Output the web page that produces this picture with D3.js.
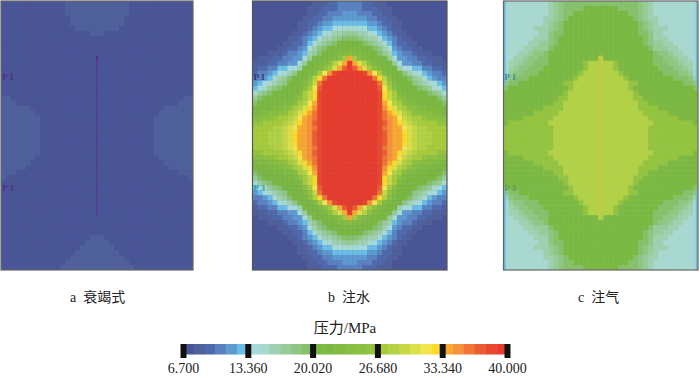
<!DOCTYPE html>
<html><head><meta charset="utf-8">
<script src="https://cdn.jsdelivr.net/npm/d3@7/dist/d3.min.js"></script>
<style>html,body{margin:0;padding:0;background:#fff}svg{display:block}text{font-family:"Liberation Serif","Noto Sans CJK SC",serif;fill:#222}</style>
</head><body><svg id="c" width="700" height="378"></svg>
<script>
const captions = ["a 衰竭式","b 注水","c 注气"];
const legendTitle = "压力/MPa";
const tickValues = [6.7,13.36,20.02,26.68,33.34,40];
const wellLabels = ["P 1","P 3"];
const edgeStripRows = [[0,16],[38,53]];
const levelChars = "0123456789abcdefghijklmnopqrst";
const palette = ["#4a5596","#4f609b","#5069ac","#5a82bf","#5d9ad0","#69bde6",
"#a6dadb","#a8d8cf","#9fd0af","#97cb98","#8fc681","#87c06a",
"#7ab843","#7db942","#82bb42","#88be42","#8cc040","#94c33f",
"#a6cb3d","#b3d145","#c7d845","#dbe04a","#f3e64d","#fcd92b",
"#f9a833","#f6923a","#f07434","#ec5c31","#e9472f","#e73c2e"];
// half rows, edge to centre; each char is a pressure class
const panelA = [
"00000000000001111111","00000000000001111111","00000000000001111111","00000000000000111111","00000000000000111111",
"00000000000000011111","00000000000000000011","00000000000000000000","00000000000000000000","00000000000000000000",
"00000000000000000000","00000000000000000000","00000000000000000000","00000000000000000000","00000000000000000000",
"00000000000000000000","00000000000000000000","00000000000000000000","00000000000000000000","11000000000000000000",
"11100000000000000000","11111100000000000000","11111110000000000000","11111111000000000000","11111111000000000000",
"11111111000000000000","11111111000000000000","11111111000000000000","11111111000000000000","11111111000000000000",
"11111111000000000000","11111110000000000000","11111100000000000000","11111000000000000000","11100000000000000000",
"10000000000000000000","00000000000000000000","00000000000000000000","00000000000000000000","00000000000000000000",
"00000000000000000000","00000000000000000000","00000000000000000000","00000000000000000000","00000000000000000000",
"00000000000000000000","00000000000000000000","00000000000000000011","00000000000000000111","00000000000000001111",
"00000000000000011111","00000000000000111111","00000000000001111111","00000000000011111111"];
const panelB = [
"00000000000011122333","00000000000111222333","00000000000112233344","00000000001122334444","00000000011223445555",
"00000000011234556677","00000000112345678899","00000001123457889abb","000000112235789abccc","0000011223468abccddd",
"0001112334589bcddeef","011122334479ccddefio","11122334469cddegjlot","1223355668ccdegilort","23345678accdeimpsttt",
"3345789bccdfjnqttttt","456789acccehkqtttttt","5679abcccdfimrtttttt","79abcccddeiknstttttt","9bcccdddegiknstttttt",
"bcccddeefijmostttttt","ccddeefgijlnpstttttt","deeffggijlnoqstttttt","ffgghiijkmopqstttttt","hhiiiijklnoprstttttt",
"iiiijjklmoopqstttttt","iiijjjklnooprstttttt",
"iiijjjklnooprstttttt","iiijjjklnooprstttttt","iiiijjklmoopqstttttt","hhiiiijklnoprstttttt","ffgghiijkmopqstttttt",
"deeffggijlnoqstttttt","ccddeefgijlnpstttttt","bcccddeefijmostttttt","9bcccdddegiknstttttt","79abcccddeiknstttttt",
"5679abcccdfimrtttttt","456789acccehkqtttttt","3345789bccdfjnqttttt","23345678accdeimpsttt","1223355668ccdegilort",
"11122334469cddegjlot","011122334479ccddefio","0001112334589bcddeef","0000011223468abccddd","000000112235789abccc",
"00000001123457889abb","00000000112345678899","00000000011234556677","00000000011223445555","00000000001122334444",
"00000000000112233344","00000000000111222333"];
const panelC = [
"77777777789abbbbbbbb","77777777789abbbbcccc","77777777789abbcccccc","77777777889abccccccc","7777777789abcccccccc",
"7777778889abcccccccc","777777788abbcccccccc","777777888abccccccccc","777778899abccccccccc","777788999bcccccccccc",
"777889aabccccccccccc","77889aabbcccccccccdj","7889aabbbccccccdhjjj","789aabbbcccccccdhjjj","79aabbbcccccccdhjjjj",
"8abbbccccccccdhjjjjj","abbccccccccdhhjjjjjj","bccccccccccddhjjjjjj","ccccccccccddhjjjjjjj","cccccccccddhhjjjjjjj",
"ccccccccddhhjjjjjjjj","cccccdddhhhhjjjjjjjj","ccddddhhhhhjjjjjjjjj","ddddhhhhhhjjjjjjjjjj","dhhhhhhhhjjjjjjjjjjj",
"hhhhhhhhhhjjjjjjjjjj","hhhhhhhhhhjjjjjjjjjj",
"hhhhhhhhhhjjjjjjjjjj","hhhhhhhhhhjjjjjjjjjj","hhhhhhhhhhjjjjjjjjjj","dhhhhhhhhjjjjjjjjjjj","ddddhhhhhhjjjjjjjjjj",
"ccddddhhhhhjjjjjjjjj","cccccdddhhhhjjjjjjjj","ccccccccddhhjjjjjjjj","cccccccccddhhjjjjjjj","ccccccccccddhjjjjjjj",
"bccccccccccddhjjjjjj","abbccccccccdhhjjjjjj","8abbbccccccccdhjjjjj","79aabbbcccccccdhjjjj","789aabbbcccccccdhjjj",
"7889aabbbccccccdhjjj","77889aabbcccccccccdj","777889aabccccccccccc","777788999bcccccccccc","777778899abccccccccc",
"777777888abccccccccc","777777788abbcccccccc","7777778889abcccccccc","7777777789abcccccccc","77777777889abccccccc",
"77777777789abbcccccc","77777777789abbbbcccc"];

const svg = d3.select("#c");
const defs = svg.append("defs");
defs.append("filter").attr("id","soft").attr("x","-2%").attr("y","-2%").attr("width","104%").attr("height","104%")
  .append("feGaussianBlur").attr("stdDeviation",0.7);
defs.append("filter").attr("id","soft2").append("feGaussianBlur").attr("stdDeviation",0.45);

const color = d3.scaleQuantize().domain([6.7,40]).range(palette);
const classValue = ch => 6.7 + (levelChars.indexOf(ch)+0.5)*(33.3/30);
const toGrid = rows => rows.flatMap((row,r)=>{
  const half=[...row];
  const full=half.concat(half.slice(0,19).reverse());
  return full.map((ch,c)=>({r,c,v:classValue(ch)}));
});
const panels=[
 {rows:panelA,xr:[1,193],well:"#5b2f8a",strip:false,labels:["#4a2f8e","#4a2f8e"],frame:"#666"},
 {rows:panelB,xr:[252.5,447],well:null,strip:false,labels:["#35307f","#3aa0a8"],frame:"#555"},
 {rows:panelC,xr:[503.5,698],well:"#dcc23a",strip:true,labels:["#3a88a8","#5a9a50"],frame:"#666"}
];
const yRange=[1,270];
panels.forEach((p,i)=>{
  const x=d3.scaleBand().domain(d3.range(39)).range(p.xr);
  const y=d3.scaleBand().domain(d3.range(p.rows.length)).range(yRange);
  const g=svg.append("g");
  const clipId="clip"+i;
  defs.append("clipPath").attr("id",clipId).append("rect").attr("x",p.xr[0]).attr("y",yRange[0]).attr("width",p.xr[1]-p.xr[0]).attr("height",yRange[1]-yRange[0]);
  const inner=g.append("g").attr("clip-path",`url(#${clipId})`).append("g").attr("filter","url(#soft)");
  inner.append("rect").attr("x",p.xr[0]-4).attr("y",yRange[0]-4).attr("width",p.xr[1]-p.xr[0]+8).attr("height",yRange[1]-yRange[0]+8).attr("fill",color(classValue(p.rows[0][0])));
  inner.selectAll("rect.cell").data(toGrid(p.rows)).join("rect").attr("class","cell")
    .attr("x",d=>x(d.c)).attr("y",d=>y(d.r))
    .attr("width",x.bandwidth()+0.4).attr("height",y.bandwidth()+0.4)
    .attr("fill",d=>color(d.v));
  if(p.well){
    const cx=x(19)+x.bandwidth()/2;
    inner.append("line").attr("x1",cx).attr("x2",cx).attr("y1",y(12)).attr("y2",y(43))
      .attr("stroke",p.well).attr("stroke-width",1.6).attr("stroke-dasharray","2 1").attr("opacity",.85);
    inner.append("line").attr("x1",cx).attr("x2",cx).attr("y1",y(11)).attr("y2",y(12))
      .attr("stroke",p.well).attr("stroke-width",2);
  }
  if(p.strip){
    edgeStripRows.forEach(([a,b])=>p.xr.forEach((ex,k)=>{
      g.append("rect").attr("x",k?ex-2.2:ex+0.4).attr("y",y(a)).attr("width",1.8).attr("height",y(b)+y.bandwidth()-y(a))
       .attr("fill",palette[5]).attr("filter","url(#soft2)");
    }));
  }
  wellLabels.forEach((t,k)=>{
    g.append("text").attr("x",p.xr[0]+1).attr("y",y(k?37:15)+(k?6:4)).attr("font-size",9).attr("font-weight","bold")
     .attr("filter","url(#soft2)").style("fill",p.labels[k]).text(t);
  });
  g.append("rect").attr("x",p.xr[0]).attr("y",yRange[0]).attr("width",p.xr[1]-p.xr[0]).attr("height",yRange[1]-yRange[0])
    .attr("fill","none").attr("stroke",p.frame).attr("stroke-width",1.2);
});
const capX=[70,328,578];
captions.forEach((t,i)=>{
  const [a,b]=t.split(" ");
  const txt=svg.append("text").attr("x",capX[i]).attr("y",302).attr("font-size",14);
  txt.append("tspan").text(a);
  txt.append("tspan").attr("dx",7).text(b);
});
// legend
const lx=d3.scaleLinear().domain([6.7,40]).range([183,507]);
const lg=svg.append("g").attr("filter","url(#soft2)");
const step=33.3/30;
lg.selectAll("rect").data(palette).join("rect")
  .attr("x",(d,i)=>lx(6.7+i*step)).attr("y",344).attr("width",(d,i)=>lx(6.7+step)-lx(6.7)+0.4).attr("height",10.5)
  .attr("fill",d=>d);
const axis=d3.axisBottom(lx).tickValues(tickValues).tickFormat(d3.format(".3f")).tickSize(14).tickPadding(4);
const ag=svg.append("g").attr("transform","translate(0,344)").call(axis);
ag.select(".domain").remove();
ag.selectAll("line").attr("stroke","#111").attr("stroke-width",6);
ag.selectAll("text").attr("font-size",14).style("font-family",'"Liberation Serif",serif').style("fill","#222").attr("y",19);
svg.append("text").attr("x",345).attr("y",333).attr("text-anchor","middle").attr("font-size",15).text(legendTitle);
</script></body></html>
